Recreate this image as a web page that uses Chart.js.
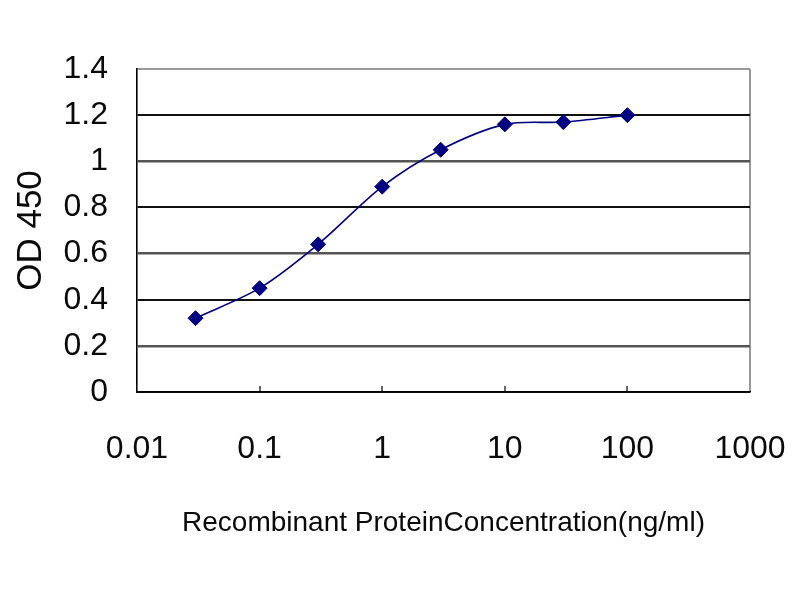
<!DOCTYPE html>
<html>
<head>
<meta charset="utf-8">
<script src="https://cdn.jsdelivr.net/npm/chart.js@4.4.1/dist/chart.umd.min.js"></script>
<style>
  html, body { margin: 0; padding: 0; background: #ffffff; }
  #wrap { width: 800px; height: 600px; }
</style>
</head>
<body>
<div id="wrap"><canvas id="c" width="800" height="600"></canvas></div>
<script>
// ---- data ----
const concentrations = [0.03, 0.1, 0.3, 1, 3, 10, 30, 100];
const odValues = [0.32, 0.45, 0.64, 0.89, 1.05, 1.16, 1.17, 1.20];
const xTickValues = [0.01, 0.1, 1, 10, 100, 1000];
const yTickValues = [0, 0.2, 0.4, 0.6, 0.8, 1.0, 1.2, 1.4];
const xTitle = 'Recombinant ProteinConcentration(ng/ml)';
const yTitle = 'OD 450';

const points = concentrations.map((c, i) => ({ x: c, y: odValues[i] }));
const tickFont = { family: "'Liberation Sans', Arial, sans-serif", size: 32 };

new Chart(document.getElementById('c'), {
  type: 'line',
  data: {
    datasets: [{
      data: points,
      borderColor: '#000080',
      backgroundColor: '#000080',
      borderWidth: 1.6,
      tension: 0.3,
      pointStyle: 'rectRot',
      pointRadius: 7.5,
      pointBorderWidth: 1,
      pointBackgroundColor: '#000080',
      pointBorderColor: '#000080'
    }]
  },
  options: {
    responsive: false,
    animation: false,
    devicePixelRatio: 1,
    layout: { padding: { left: 0, top: 69, right: 50, bottom: 59.5 } },
    plugins: { legend: { display: false }, tooltip: { enabled: false } },
    scales: {
      x: {
        type: 'logarithmic',
        min: 0.01,
        max: 1000,
        afterBuildTicks: s => { s.ticks = xTickValues.map(v => ({ value: v })); },
        afterFit: s => { s.height = 148.5; s.paddingLeft = 0; s.paddingRight = 0; },
        border: { display: true, color: '#000', width: 1.6 },
        grid: {
          drawOnChartArea: true,
          drawTicks: true,
          tickLength: -6,
          color: ctx => (ctx.tick && ctx.tick.value === 1000) ? '#999999' : 'rgba(0,0,0,0)',
          lineWidth: 2,
          tickColor: ctx => (ctx.tick && (ctx.tick.value === 0.01 || ctx.tick.value === 1000)) ? 'rgba(0,0,0,0)' : '#000',
          tickWidth: 1.2
        },
        ticks: {
          autoSkip: false,
          maxRotation: 0,
          padding: 44,
          color: '#0a0a0a',
          font: tickFont,
          callback: v => String(v)
        },
        title: {
          display: true,
          text: xTitle,
          color: '#0a0a0a',
          padding: 0,
          font: { family: "'Liberation Sans', Arial, sans-serif", size: 28 }
        }
      },
      y: {
        type: 'linear',
        min: 0,
        max: 1.4,
        afterBuildTicks: s => { s.ticks = yTickValues.map(v => ({ value: v })); },
        afterFit: s => { s.width = 137; s.paddingTop = 0; s.paddingBottom = 0; },
        border: { display: true, color: '#000', width: 1.6 },
        grid: {
          drawTicks: false,
          color: ctx => {
            const v = Math.round((ctx.tick ? ctx.tick.value : 0) * 10) / 10;
            if (v === 1.4) return '#999999';
            if (v === 0.2 || v === 0.6 || v === 1.0) return '#555555';
            return '#111111';
          },
          lineWidth: ctx => {
            const v = Math.round((ctx.tick ? ctx.tick.value : 0) * 10) / 10;
            if (v === 1.4) return 2;
            if (v === 0.2 || v === 0.6 || v === 1.0) return 2.6;
            return 2;
          }
        },
        ticks: {
          padding: 29,
          color: '#0a0a0a',
          font: tickFont,
          callback: v => String(Math.round(v * 10) / 10)
        },
        title: {
          display: true,
          text: yTitle,
          color: '#0a0a0a',
          padding: { top: 10, bottom: 0 },
          font: { family: "'Liberation Sans', Arial, sans-serif", size: 35 }
        }
      }
    }
  }
});
</script>
</body>
</html>
